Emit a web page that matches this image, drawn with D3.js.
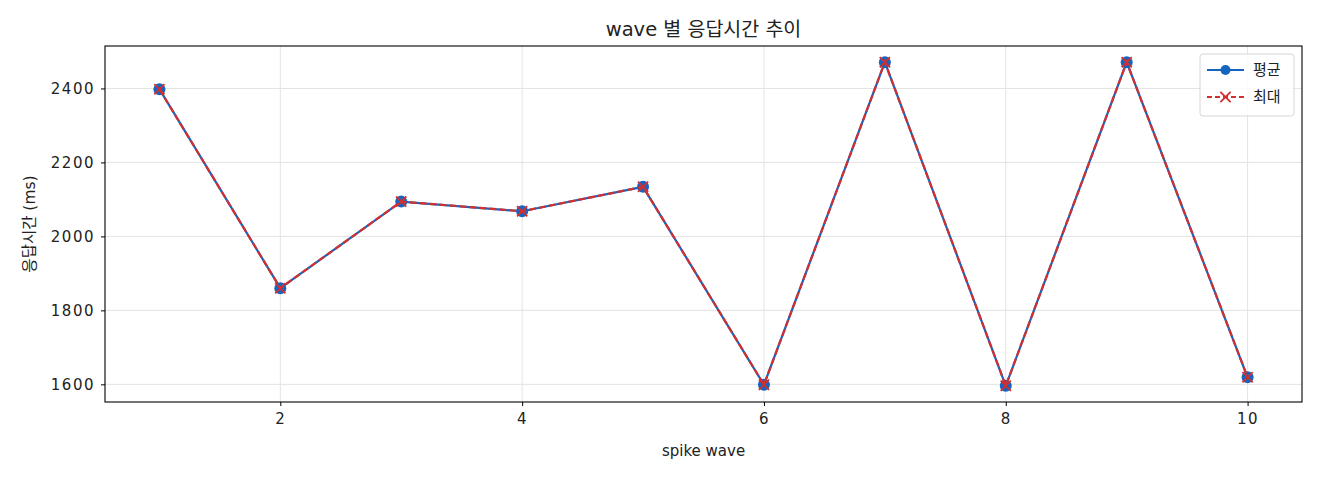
<!DOCTYPE html>
<html>
<head>
<meta charset="utf-8">
<script src="https://d3js.org/d3.v7.min.js"></script>
<style>
  body { margin: 0; background: #fff; }
  svg text { font-family: "DejaVu Sans", "Noto Sans CJK KR", sans-serif; fill: #222; }
</style>
</head>
<body>
<div id="chart"></div>
<script>
// data
var waves = [1, 2, 3, 4, 5, 6, 7, 8, 9, 10];
var avgMs = [2398, 1860, 2094, 2068, 2134, 1599, 2471, 1596, 2471, 1619];
var maxMs = [2398, 1860, 2094, 2068, 2134, 1599, 2471, 1596, 2471, 1619];
var xTicks = [2, 4, 6, 8, 10];
var yTicks = [1600, 1800, 2000, 2200, 2400];

var W = 1320, H = 480;
var margin = {top: 46, right: 18, bottom: 78, left: 105};
var width = W - margin.left - margin.right,
    height = H - margin.top - margin.bottom;

var blue = "#1565c0", red = "#d32f2f";

var svg = d3.select("#chart").append("svg")
    .attr("width", W).attr("height", H);

var g = svg.append("g")
    .attr("transform", "translate(" + margin.left + "," + margin.top + ")");

// matplotlib-like 5% margins
var xExt = d3.extent(waves), xPad = (xExt[1] - xExt[0]) * 0.05;
var allY = avgMs.concat(maxMs);
var yExt = d3.extent(allY), yPad = (yExt[1] - yExt[0]) * 0.05;

var x = d3.scaleLinear().domain([xExt[0] - xPad, xExt[1] + xPad]).range([0, width]);
var y = d3.scaleLinear().domain([yExt[0] - yPad, yExt[1] + yPad]).range([height, 0]);

// grid
g.append("g").selectAll("line").data(xTicks).enter().append("line")
    .attr("x1", d => x(d)).attr("x2", d => x(d))
    .attr("y1", 0).attr("y2", height)
    .attr("stroke", "#e3e3e3").attr("stroke-width", 1);
g.append("g").selectAll("line").data(yTicks).enter().append("line")
    .attr("y1", d => y(d)).attr("y2", d => y(d))
    .attr("x1", 0).attr("x2", width)
    .attr("stroke", "#e3e3e3").attr("stroke-width", 1);

// axes
var xAxis = g.append("g")
    .attr("transform", "translate(0," + height + ")")
    .call(d3.axisBottom(x).tickValues(xTicks).tickFormat(d3.format("d")).tickSize(4).tickPadding(7));
var yAxis = g.append("g")
    .call(d3.axisLeft(y).tickValues(yTicks).tickFormat(d3.format("d")).tickSize(4).tickPadding(6));
[xAxis, yAxis].forEach(function(a) {
  a.select(".domain").remove();
  a.selectAll("line").attr("stroke", "#000").attr("stroke-width", 1);
  a.selectAll("text").style("font-size", "15px").style("letter-spacing", "1.5px").attr("fill", "#222");
});

g.append("rect")
    .attr("width", width).attr("height", height)
    .attr("fill", "none").attr("stroke", "#000").attr("stroke-width", 1.1);

// lines
var line = function(vals) {
  return d3.line().x((d, i) => x(waves[i])).y(d => y(d))(vals);
};

g.append("path").attr("d", line(avgMs))
    .attr("fill", "none").attr("stroke", blue).attr("stroke-width", 2.2);
g.append("g").selectAll("circle").data(avgMs).enter().append("circle")
    .attr("cx", (d, i) => x(waves[i])).attr("cy", d => y(d))
    .attr("r", 6).attr("fill", blue);

g.append("path").attr("d", line(maxMs))
    .attr("fill", "none").attr("stroke", red).attr("stroke-width", 2.2)
    .attr("stroke-dasharray", "7,3");
var cross = d3.symbol().type(d3.symbolTimes).size(70);
g.append("g").selectAll("path").data(maxMs).enter().append("path")
    .attr("d", cross)
    .attr("transform", (d, i) => "translate(" + x(waves[i]) + "," + y(d) + ")")
    .attr("fill", "none").attr("stroke", red).attr("stroke-width", 1.8);

// titles
svg.append("text")
    .attr("x", margin.left + width / 2).attr("y", 36)
    .attr("text-anchor", "middle").style("font-size", "19.5px")
    .text("wave 별 응답시간 추이");
svg.append("text")
    .attr("x", margin.left + width / 2).attr("y", 456)
    .attr("text-anchor", "middle").style("font-size", "15px")
    .text("spike wave");
svg.append("text")
    .attr("transform", "translate(35," + (margin.top + height / 2) + ") rotate(-90)")
    .attr("text-anchor", "middle").style("font-size", "15.5px")
    .text("응답시간 (ms)");

// legend
var lg = svg.append("g").attr("transform", "translate(1200,54)");
lg.append("rect").attr("width", 94).attr("height", 62).attr("rx", 3)
    .attr("fill", "#fff").attr("fill-opacity", 0.85)
    .attr("stroke", "#d6d6d6").attr("stroke-width", 1);
var items = [
  {label: "평균", color: blue, dash: null, mark: "circle"},
  {label: "최대", color: red, dash: "5,3", mark: "x"}
];
items.forEach(function(it, i) {
  var yy = 16 + i * 27;
  lg.append("line").attr("x1", 7).attr("x2", 44).attr("y1", yy).attr("y2", yy)
      .attr("stroke", it.color).attr("stroke-width", 2)
      .attr("stroke-dasharray", it.dash);
  if (it.mark === "circle") {
    lg.append("circle").attr("cx", 25.5).attr("cy", yy).attr("r", 5).attr("fill", it.color);
  } else {
    lg.append("path").attr("d", cross).attr("transform", "translate(25.5," + yy + ")")
        .attr("fill", "none").attr("stroke", it.color).attr("stroke-width", 1.8);
  }
  lg.append("text").attr("x", 53).attr("y", yy + 5)
      .style("font-size", "15px").text(it.label);
});
</script>
</body>
</html>
